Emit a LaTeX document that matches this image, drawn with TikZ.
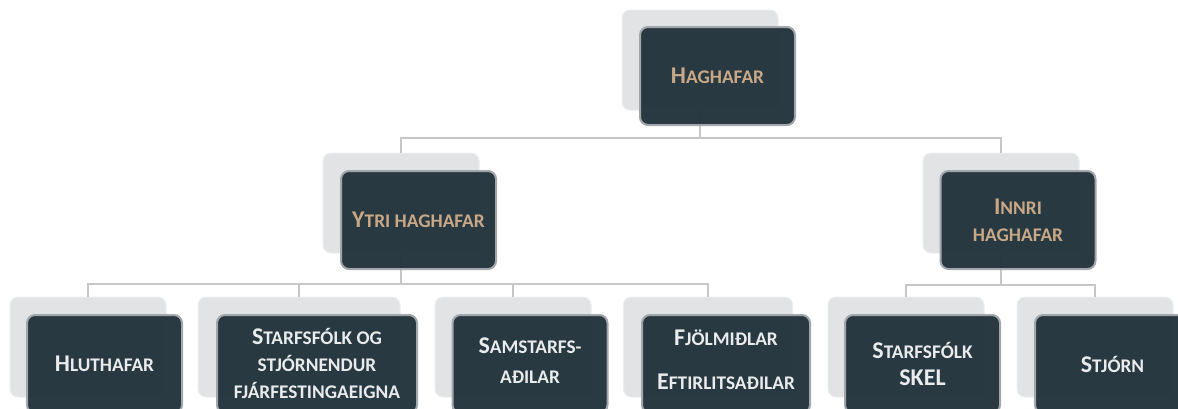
\documentclass[tikz,border=0pt]{standalone}
\usepackage{fontspec}
\setmainfont{Carlito}
\definecolor{frontfill}{RGB}{35,52,60}
\definecolor{frontline}{RGB}{163,166,170}
\definecolor{backfill}{RGB}{226,227,229}
\definecolor{backline}{RGB}{236,237,238}
\definecolor{connline}{RGB}{198,199,201}
\definecolor{tan}{RGB}{201,168,135}
\definecolor{lighttext}{RGB}{233,235,236}
\newcommand\Bg[1]{{\fontsize{24}{28}\selectfont #1}}
\tikzset{
  backbox/.style={draw=backline, line width=1pt, fill=backfill, rounded corners=8pt,
    minimum width=#1, minimum height=100pt, inner sep=0pt},
  backbox/.default=156pt,
  frontbox/.style={draw=frontline, line width=2pt, fill=frontfill, fill opacity=0.97,
    draw opacity=1, rounded corners=8pt, minimum width=#1, minimum height=98pt, inner sep=0pt},
  frontbox/.default=155pt,
  conn/.style={draw=connline, line width=2pt},
  lbl/.style={align=center, font=\bfseries\fontsize{19.3}{27}\selectfont, inner sep=0pt},
  lbltan/.style={lbl, text=tan},
  lbllight/.style={lbl, text=lighttext},
}
\begin{document}
\begin{tikzpicture}[x=1pt, y=-1pt]
\useasboundingbox (0,0) rectangle (1178,408);
% back boxes
\node[backbox] (topb) at (700,60) {};
\node[backbox] (ytrib) at (401,203) {};
\node[backbox] (innrib) at (1001,203) {};
\node[backbox] (hlutb) at (88,347) {};
\node[backbox=202pt] (starfb) at (299,347) {};
\node[backbox] (samsb) at (513,347) {};
\node[backbox=169pt] (fjolb) at (708,347) {};
\node[backbox] (skelb) at (906,347) {};
\node[backbox] (stjb) at (1095,347) {};
% junctions
\coordinate (j1) at (700,138);
\coordinate (j2) at (401,284);
\coordinate (j3) at (1001,285);
% connectors
\draw[conn] (topb.south) -- (j1) -| (ytrib.north);
\draw[conn] (j1) -| (innrib.north);
\draw[conn] (ytrib.south) -- (j2) -| (hlutb.north);
\draw[conn] (j2) -| (starfb.north);
\draw[conn] (j2) -| (samsb.north);
\draw[conn] (j2) -| (fjolb.north);
\draw[conn] (innrib.south) -- (j3) -| (skelb.north);
\draw[conn] (j3) -| (stjb.north);
% front boxes
\node[frontbox] (top) at (717.5,76) {};
\node[frontbox] (ytri) at (418.5,220) {};
\node[frontbox] (innri) at (1018,220) {};
\node[frontbox] (hlut) at (104.5,364) {};
\node[frontbox=200pt] (starf) at (317,364) {};
\node[frontbox] (sams) at (530,364) {};
\node[frontbox=168pt] (fjol) at (726,364) {};
\node[frontbox] (skel) at (922.5,364) {};
\node[frontbox] (stj) at (1112.5,364) {};
% labels
\node[lbltan] (topt) at (top.center) {\Bg{H}AGHAFAR};
\node[lbltan] (ytrit) at (ytri.center) {\Bg{Y}TRI HAGHAFAR};
\node[lbltan] (innrit) at (innri.center) {\Bg{I}NNRI\\HAGHAFAR};
\node[lbllight] (hlutt) at (hlut.center) {\Bg{H}LUTHAFAR};
\node[lbllight] (starft) at ([yshift=1pt]starf.center) {\Bg{S}TARFSFÓLK OG\\STJÓRNENDUR\\FJÁRFESTINGAEIGNA};
\node[lbllight] (samst) at ([yshift=3pt]sams.center) {\Bg{S}AMSTARFS-\\[3pt]AÐILAR};
\node[lbllight] (fjolt) at ([yshift=4pt]fjol.center) {\Bg{F}JÖLMIÐLAR\\[17pt]\Bg{E}FTIRLITSAÐILAR};
\node[lbllight] (skelt) at (skel.center) {\Bg{S}TARFSFÓLK\\\Bg{SKEL}};
\node[lbllight] (stjt) at (stj.center) {\Bg{S}TJÓRN};
\end{tikzpicture}
\end{document}
